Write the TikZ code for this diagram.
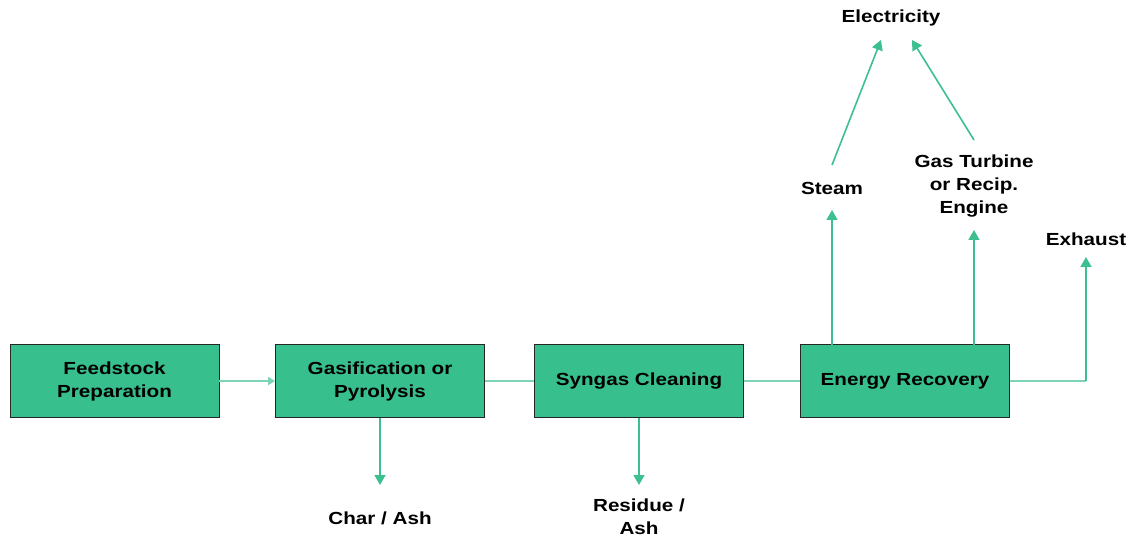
\documentclass[tikz,border=0pt]{standalone}
\usepackage{fontspec}
\setmainfont{Liberation Sans}[FakeStretch=1.18]
\usetikzlibrary{arrows.meta}
\definecolor{boxgreen}{RGB}{56,191,142}
\definecolor{linegreen}{RGB}{60,192,144}
\definecolor{lightgreen}{RGB}{125,212,180}
\begin{document}
\begin{tikzpicture}[x=1pt,y=-1pt,
  stagebox/.style={draw=black!85,line width=0.9pt,fill=boxgreen,minimum width=209pt,minimum height=73pt,inner sep=0pt,align=center,font=\fontsize{17.5}{23}\selectfont\bfseries},
  lbl/.style={align=center,inner sep=0pt,font=\fontsize{17.5}{23}\selectfont\bfseries},
  flow/.style={draw=linegreen,line width=1.6pt},
  hflow/.style={draw=lightgreen,line width=1.8pt},
  arr/.style={flow,-{Triangle[width=11pt,length=10pt]}}]
\useasboundingbox (0,0) rectangle (1132,537);
\node[stagebox] (feed) at (114.5,381) {Feedstock\\Preparation};
\node[stagebox] (gas) at (380,381) {Gasification or\\Pyrolysis};
\node[stagebox] (syn) at (639,381) {Syngas Cleaning};
\node[stagebox] (ene) at (905,381) {Energy Recovery};
\node[lbl] (char) at (380,518) {Char / Ash};
\node[lbl] (res) at (639,517) {Residue /\\Ash};
\node[lbl] (steam) at (832,188) {Steam};
\node[lbl] (gt) at (974,186) {Gas Turbine\\or Recip.\\Engine};
\node[lbl] (exh) at (1086,239) {Exhaust};
\node[lbl] (elec) at (891,18) {Electricity};
\coordinate (cA) at (380,485);
\coordinate (cB) at (639,485);
\coordinate (cS1) at (832,345);
\coordinate (cS2) at (832,210);
\coordinate (cG1) at (974,345);
\coordinate (cG2) at (974,230);
\coordinate (cX) at (1086,381);
\coordinate (cX2) at (1086,257);
\coordinate (cE1) at (881,40);
\coordinate (cE2) at (912,40);
\coordinate (cSt) at (832,165);
\coordinate (cGt) at (974,140);
\draw[hflow,-{Triangle[width=8pt,length=7pt]}] (feed.east) -- (gas.west);
\draw[hflow] (gas.east) -- (syn.west);
\draw[hflow] (syn.east) -- (ene.west);
\draw[arr] (gas.south) -- (cA);
\draw[arr] (syn.south) -- (cB);
\draw[arr] (cS1) -- (cS2);
\draw[arr] (cG1) -- (cG2);
\draw[hflow] (ene.east) -- (cX);
\draw[arr] (cX) -- (cX2);
\draw[arr] (cSt) -- (cE1);
\draw[arr] (cGt) -- (cE2);
\end{tikzpicture}
\end{document}
